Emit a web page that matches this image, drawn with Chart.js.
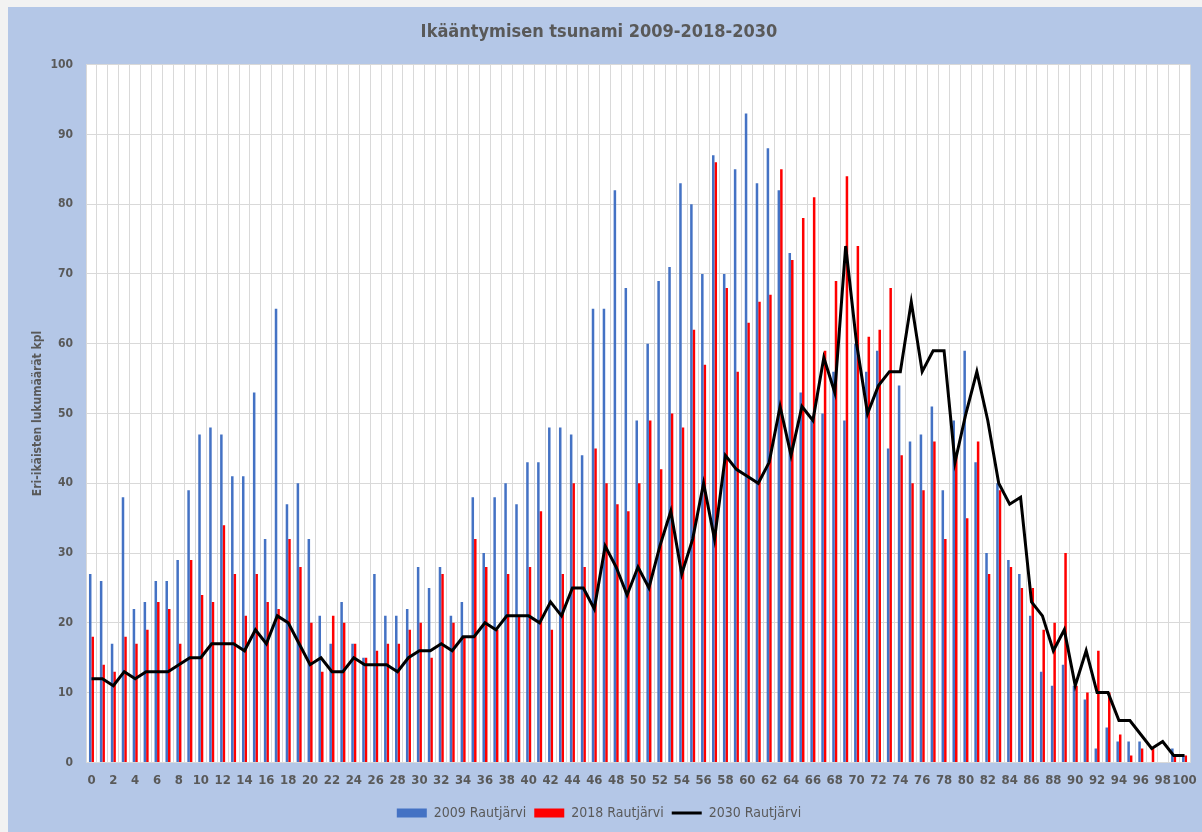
<!DOCTYPE html>
<html>
<head>
<meta charset="utf-8">
<script src="https://cdn.jsdelivr.net/npm/chart.js@4"></script>
<style>
  html, body { margin: 0; padding: 0; background: #f2f2f2; }
  #wrap { position: absolute; left: 0; top: 0; width: 1202px; height: 832px; }
</style>
</head>
<body>
<div id="wrap"><canvas id="c" width="1202" height="832"></canvas></div>
<script>
// ---- Data ----
const ages = Array.from({length: 101}, (_, i) => String(i));

const series2009 = [
  27,26,17,38,22,23,26,26,29,39,
  47,48,47,41,41,53,32,65,37,40,
  32,21,17,23,17,15,27,21,21,22,
  28,25,28,21,23,38,30,38,40,37,
  43,43,48,48,47,44,65,65,82,68,
  49,60,69,71,83,80,70,87,70,85,
  93,83,88,82,73,53,49,50,56,49,
  60,56,59,45,54,46,47,51,39,49,
  59,43,30,40,29,27,21,13,11,14,
  11,9,2,5,3,3,3,0,0,2,1
];

const series2018 = [
  18,14,13,18,17,19,23,22,17,29,
  24,23,34,27,21,27,23,22,32,28,
  20,13,21,20,17,15,16,17,17,19,
  20,15,27,20,18,32,28,19,27,21,
  28,36,19,27,40,28,45,40,37,36,
  40,49,42,50,48,62,57,86,68,56,
  63,66,67,85,72,78,81,59,69,84,
  74,61,62,68,44,40,39,46,32,44,
  35,46,27,39,28,25,25,19,20,30,
  11,10,16,10,4,1,2,2,0,1,1
];

const series2030 = [
  12,12,11,13,12,13,13,13,14,15,
  15,17,17,17,16,19,17,21,20,17,
  14,15,13,13,15,14,14,14,13,15,
  16,16,17,16,18,18,20,19,21,21,
  21,20,23,21,25,25,22,31,28,24,
  28,25,31,36,27,32,40,32,44,42,
  41,40,43,51,44,51,49,58,53,74,
  60,50,54,56,56,66,56,59,59,43,
  50,56,49,40,37,38,23,21,16,19,
  11,16,10,10,6,6,4,2,3,1,1
];

const seriesNames = ['2009 Rautjärvi', '2018 Rautjärvi', '2030 Rautjärvi'];
const yTicks = [0,10,20,30,40,50,60,70,80,90,100];

const FONT = "'Liberation Sans Narrow', 'DejaVu Sans Condensed', 'Liberation Sans', sans-serif";
const GREY = '#595959';

const bgPlugin = {
  id: 'bg',
  beforeDraw(chart) {
    const { ctx, chartArea: a, width, height } = chart;
    ctx.save();
    ctx.fillStyle = '#f2f2f2';
    ctx.fillRect(0, 0, width, height);
    ctx.fillStyle = '#b4c7e7';
    ctx.fillRect(8, 7, width - 8, height - 7);
    ctx.fillStyle = '#ffffff';
    ctx.fillRect(a.left, a.top, a.right - a.left, a.bottom - a.top);
    ctx.restore();
  }
};

new Chart(document.getElementById('c'), {
  type: 'bar',
  data: {
    labels: ages,
    datasets: [
      {
        label: seriesNames[0],
        data: series2009,
        backgroundColor: '#4472c4',
        borderWidth: 0,
        categoryPercentage: 0.46,
        barPercentage: 1.0,
        pointStyle: 'rect',
        order: 1
      },
      {
        label: seriesNames[1],
        data: series2018,
        backgroundColor: '#ff0000',
        borderWidth: 0,
        categoryPercentage: 0.46,
        barPercentage: 1.0,
        pointStyle: 'rect',
        order: 1
      },
      {
        type: 'line',
        label: seriesNames[2],
        data: series2030,
        borderColor: '#000000',
        backgroundColor: '#000000',
        borderWidth: 3,
        pointRadius: 0,
        pointHoverRadius: 0,
        tension: 0,
        pointStyle: 'line',
        order: 0
      }
    ]
  },
  options: {
    responsive: false,
    animation: false,
    layout: { padding: { left: 8, top: 7, right: 12, bottom: 2 } },
    plugins: {
      tooltip: { enabled: false },
      title: {
        display: true,
        text: 'Ikääntymisen tsunami 2009-2018-2030',
        color: GREY,
        font: { family: FONT, size: 18, weight: 'bold' },
        padding: { top: 15, bottom: 21 }
      },
      legend: {
        position: 'bottom',
        labels: {
          usePointStyle: true,
          pointStyleWidth: 30,
          boxHeight: 9,
          color: GREY,
          font: { family: FONT, size: 14 },
          padding: 8,
          sort: (a, b) => a.datasetIndex - b.datasetIndex
        }
      }
    },
    scales: {
      x: {
        afterFit: (s) => { s.paddingLeft = 0; s.paddingRight = 0; },
        grid: { color: '#d9d9d9', lineWidth: 1, drawTicks: false, offset: true },
        border: { color: '#d9d9d9' },
        ticks: {
          autoSkip: false,
          maxRotation: 0,
          padding: 10,
          color: GREY,
          font: { family: FONT, size: 13, weight: 'bold' },
          callback: function (v, i) { return i % 2 === 0 ? this.getLabelForValue(v) : ''; }
        }
      },
      y: {
        min: 0,
        max: 100,
        afterBuildTicks: (s) => { s.ticks = yTicks.map(v => ({ value: v })); },
        afterFit: (s) => { s.width = 78; },
        grid: { color: '#d9d9d9', lineWidth: 1, drawTicks: false },
        border: { display: false },
        ticks: {
          padding: 13,
          color: GREY,
          font: { family: FONT, size: 12, weight: 'bold' }
        },
        title: {
          display: true,
          text: 'Eri-ikäisten lukumäärät kpl',
          color: GREY,
          font: { family: FONT, size: 12, weight: 'bold' },
          padding: { top: 23, bottom: 0 }
        }
      }
    }
  },
  plugins: [bgPlugin]
});
</script>
</body>
</html>
